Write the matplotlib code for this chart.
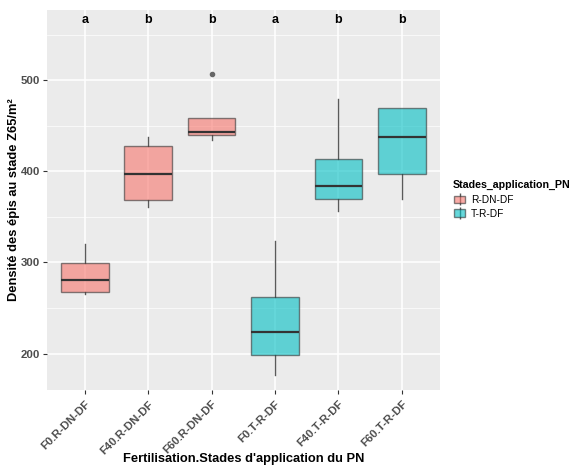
import matplotlib
matplotlib.use("Agg")
import matplotlib.pyplot as plt
from matplotlib.patches import Patch
from matplotlib.lines import Line2D
from matplotlib.legend_handler import HandlerTuple

plt.rcParams['font.family'] = ['Liberation Sans', 'DejaVu Sans']

categories = ["F0.R-DN-DF", "F40.R-DN-DF", "F60.R-DN-DF", "F0.T-R-DF", "F40.T-R-DF", "F60.T-R-DF"]
groups = ["R-DN-DF", "R-DN-DF", "R-DN-DF", "T-R-DF", "T-R-DF", "T-R-DF"]
whislo = [265, 361, 434, 177, 356, 370]
q1 = [268, 368, 440, 198, 370, 397]
med = [281, 397, 443, 224, 384, 438]
q3 = [299, 428, 459, 262, 414, 470]
whishi = [320, 438, 459, 324, 479, 470]
outliers = [[], [], [507], [], [], []]
letters = ["a", "b", "b", "a", "b", "b"]
letter_y = 566
legend_labels = ["R-DN-DF", "T-R-DF"]
colors = {"R-DN-DF": "#F8766D", "T-R-DF": "#00BFC4"}

fig = plt.figure(figsize=(5.78, 4.70), dpi=100)
ax = fig.add_axes([0.0808, 0.1702, 0.761 - 0.0808, 0.9787 - 0.1702])
ax.set_facecolor("#EBEBEB")

stats = []
for i in range(len(categories)):
    stats.append(dict(whislo=whislo[i], q1=q1[i], med=med[i], q3=q3[i], whishi=whishi[i], fliers=outliers[i]))

positions = list(range(1, len(categories) + 1))
bp = ax.bxp(stats, positions=positions, widths=0.75, patch_artist=True, showcaps=False,
            boxprops=dict(edgecolor="#333333", linewidth=1.0),
            medianprops=dict(color="#333333", linewidth=1.6),
            whiskerprops=dict(color="#5A5A5A", linewidth=1.0),
            flierprops=dict(marker="o", markerfacecolor="#666666", markeredgecolor="#666666", markersize=3))
for patch, g in zip(bp['boxes'], groups):
    patch.set_facecolor(colors[g])
    patch.set_alpha(0.6)
    patch.set_edgecolor((0.2, 0.2, 0.2, 0.85))
for w in bp['whiskers']:
    w.set_zorder(1)

for x, l in zip(positions, letters):
    ax.text(x, letter_y, l, ha="center", va="center", fontsize=9, fontweight="bold", color="black")

ax.set_xlim(0.4, 6.6)
ax.set_ylim(160, 577)
ax.set_yticks([200, 300, 400, 500])
ax.set_yticks([250, 350, 450, 550], minor=True)
ax.set_xticks(positions)
ax.set_xticklabels(categories, rotation=45, ha="right", rotation_mode="anchor")
ax.grid(True, which="major", color="white", linewidth=1.1)
ax.grid(True, which="minor", axis="y", color="white", linewidth=0.5)
ax.set_axisbelow(True)
for s in ax.spines.values():
    s.set_visible(False)
ax.tick_params(axis="both", which="major", length=3, color="#333333", labelcolor="#4D4D4D", labelsize=8.2, width=0.8)
ax.tick_params(axis="y", which="major", pad=1.5)
ax.tick_params(axis="y", which="minor", length=0)
for lab in ax.get_xticklabels() + ax.get_yticklabels():
    lab.set_fontweight("bold")

ax.set_xlabel("Fertilisation.Stades d'application du PN", fontsize=9.3, fontweight="bold", va="center")
ax.set_ylabel("Densité des épis au stade Z65/m²", fontsize=9.3, fontweight="bold", va="center")
ax.xaxis.set_label_coords(0.5, -0.1816)
ax.yaxis.set_label_coords(-0.084, 0.5)

fig.text(453 / 578, 1 - 185 / 470, "Stades_application_PN", ha="left", va="center",
         fontsize=7.7, fontweight="bold", color="black")
handles = []
for g in legend_labels:
    whisk = Line2D([], [], marker="|", markersize=9, color="#5A5A5A", linestyle="None")
    box = Patch(facecolor=colors[g], alpha=0.6, edgecolor="#333333")
    handles.append((whisk, box))
leg = fig.legend(handles=handles, labels=legend_labels, loc="upper left",
                 handler_map={tuple: HandlerTuple(ndivide=1, pad=0)},
                 bbox_to_anchor=(454 / 578, 1 - 195 / 470), frameon=False, fontsize=7.3,
                 handlelength=1.1, handleheight=0.75, handletextpad=0.6, labelspacing=0.35,
                 borderpad=0.0, borderaxespad=0.0)

fig.savefig("out.png", dpi=100)
